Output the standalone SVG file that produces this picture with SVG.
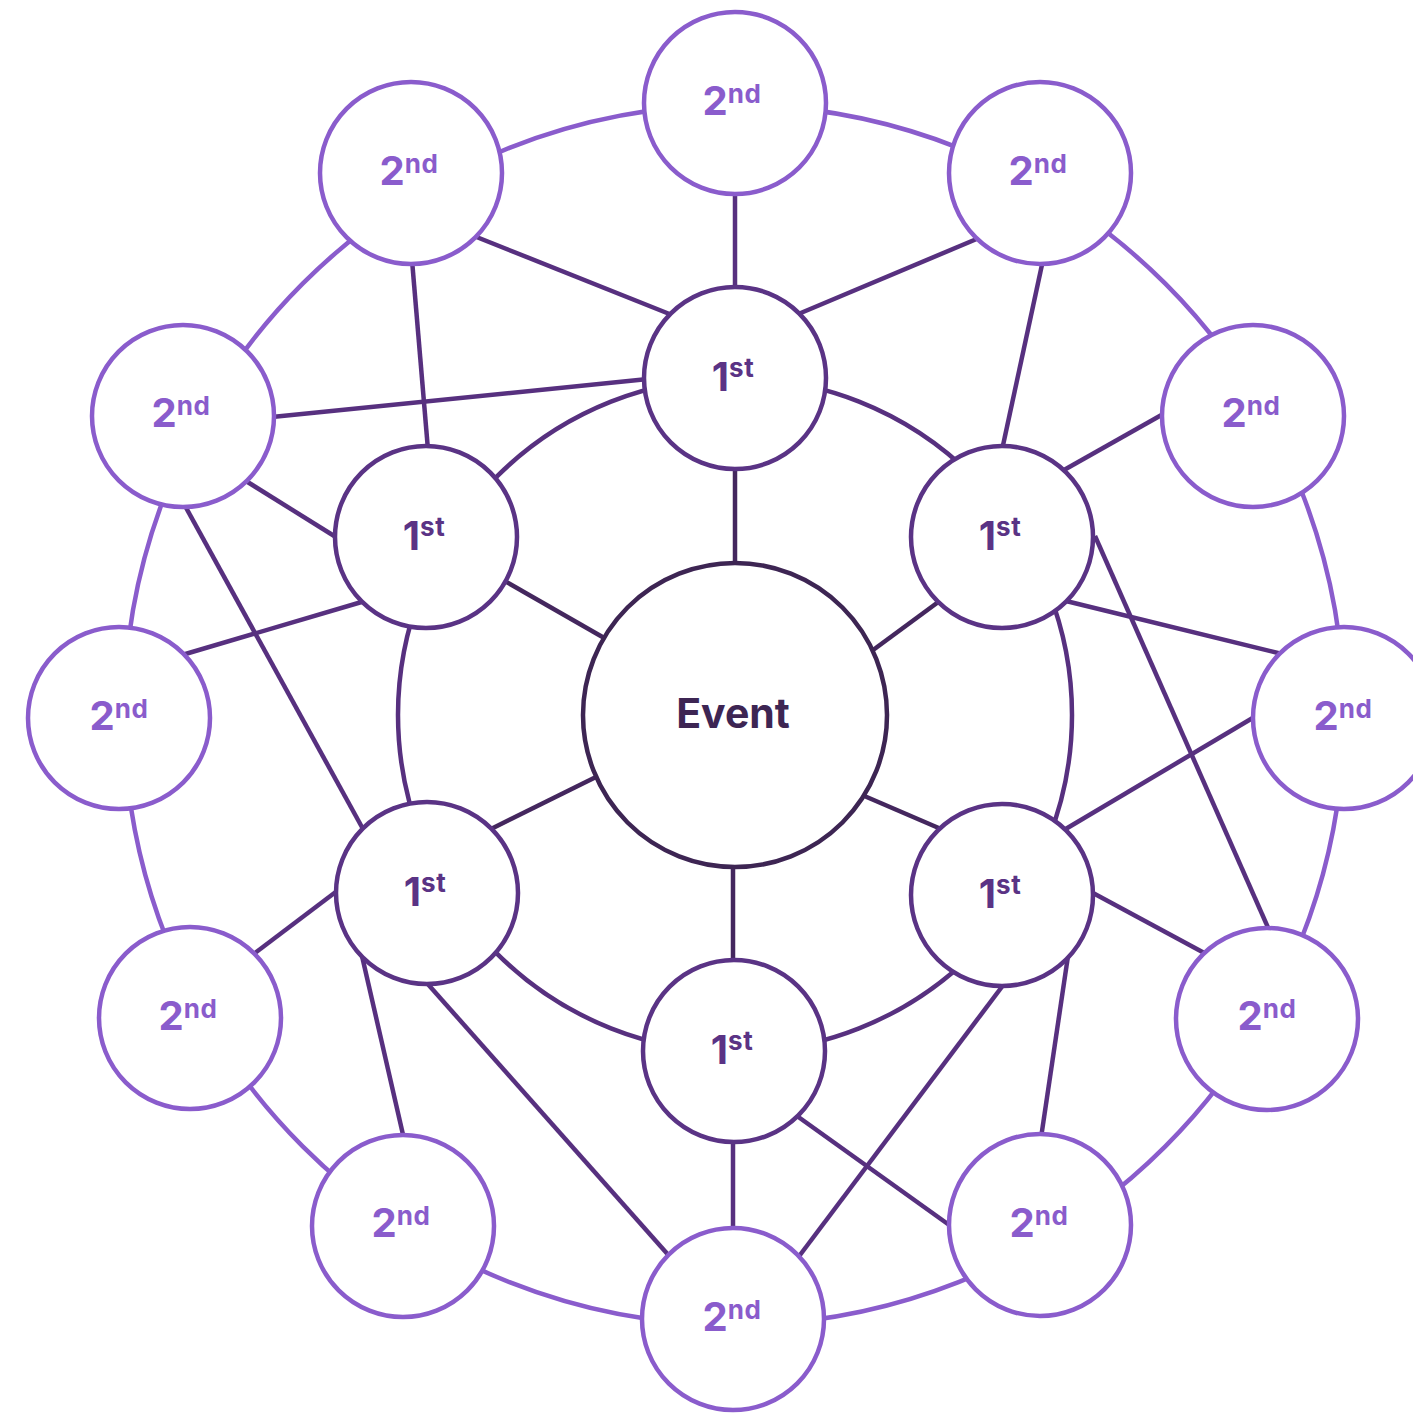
<svg xmlns="http://www.w3.org/2000/svg" width="1413" height="1414" viewBox="0 0 1413 1414">
<style>
.bg{fill:#ffffff}
.ring2{fill:none;stroke:#8a5ccc;stroke-width:4.5}
.ring1{fill:none;stroke:#57307f;stroke-width:4.5}
.ln{stroke:#57307f;stroke-width:4.5;fill:none}
.sp{stroke:#44275e;stroke-width:4.5;fill:none}
.n2 circle{fill:#ffffff;stroke:#8a5ccc;stroke-width:4.5}
.n1 circle{fill:#ffffff;stroke:#5a3385;stroke-width:4.5}
.ev circle{fill:#ffffff;stroke:#3d2553;stroke-width:4.5}
.t2{font-family:Inter,"Liberation Sans",sans-serif;font-weight:700;font-size:40px;fill:#8a5ccc;text-anchor:middle}
.t1{font-family:Inter,"Liberation Sans",sans-serif;font-weight:700;font-size:40px;fill:#5a3385;text-anchor:middle}
.tev{font-family:Inter,"Liberation Sans",sans-serif;font-weight:700;font-size:41px;fill:#3d2553;text-anchor:middle}
.sup{font-size:26px;letter-spacing:0.5px}
</style>
<rect class="bg" x="0" y="0" width="1413" height="1414"/>
<g id="connectors">
<circle class="ring2" cx="734" cy="715" r="610"/>
<circle class="ring1" cx="735" cy="715" r="337"/>
<line class="ln" x1="735" y1="190" x2="735" y2="292"/>
<line class="ln" x1="474" y1="236" x2="672" y2="315"/>
<line class="ln" x1="979" y1="238" x2="796" y2="315"/>
<line class="ln" x1="272" y1="417" x2="648" y2="379"/>
<line class="ln" x1="412" y1="260" x2="428" y2="450"/>
<line class="ln" x1="1043" y1="260" x2="1002" y2="450"/>
<line class="ln" x1="246" y1="481" x2="339" y2="539"/>
<line class="ln" x1="1165" y1="413" x2="1064" y2="470"/>
<line class="ln" x1="184" y1="504" x2="363" y2="829"/>
<line class="ln" x1="182" y1="655" x2="365" y2="601"/>
<line class="ln" x1="1066" y1="601" x2="1282" y2="654"/>
<line class="ln" x1="1095" y1="536" x2="1270" y2="932"/>
<line class="ln" x1="1256" y1="716" x2="1064" y2="830"/>
<line class="ln" x1="1093" y1="893" x2="1208" y2="955"/>
<line class="ln" x1="1068" y1="956" x2="1041" y2="1138"/>
<line class="ln" x1="1004" y1="984" x2="797" y2="1259"/>
<line class="ln" x1="797" y1="1116" x2="952" y2="1227"/>
<line class="ln" x1="733" y1="1138" x2="733" y2="1232"/>
<line class="ln" x1="426" y1="982" x2="671" y2="1258"/>
<line class="ln" x1="362" y1="956" x2="404" y2="1139"/>
<line class="ln" x1="251" y1="956" x2="337" y2="891"/>
<line class="sp" x1="735" y1="465" x2="735" y2="567"/>
<line class="sp" x1="503" y1="580" x2="606" y2="639"/>
<line class="sp" x1="941" y1="600" x2="869" y2="653"/>
<line class="sp" x1="489" y1="830" x2="598" y2="776"/>
<line class="sp" x1="862" y1="795" x2="941" y2="829"/>
<line class="sp" x1="733" y1="863" x2="733" y2="964"/>
</g>
<g id="event" class="ev">
<circle cx="735" cy="715" r="152"/>
<text class="tev" x="733" y="728">Event</text>
</g>
<g id="first-top" class="n1"><circle cx="735" cy="378" r="91"/><text class="t1" x="733" y="391">1<tspan class="sup" dy="-14">st</tspan></text></g>
<g id="first-ul" class="n1"><circle cx="426" cy="537" r="91"/><text class="t1" x="424" y="550">1<tspan class="sup" dy="-14">st</tspan></text></g>
<g id="first-ur" class="n1"><circle cx="1002" cy="537" r="91"/><text class="t1" x="1000" y="550">1<tspan class="sup" dy="-14">st</tspan></text></g>
<g id="first-ll" class="n1"><circle cx="427" cy="893" r="91"/><text class="t1" x="425" y="906">1<tspan class="sup" dy="-14">st</tspan></text></g>
<g id="first-lr" class="n1"><circle cx="1002" cy="895" r="91"/><text class="t1" x="1000" y="908">1<tspan class="sup" dy="-14">st</tspan></text></g>
<g id="first-bottom" class="n1"><circle cx="734" cy="1051" r="91"/><text class="t1" x="732" y="1064">1<tspan class="sup" dy="-14">st</tspan></text></g>
<g id="second-1" class="n2"><circle cx="735" cy="103" r="91"/><text class="t2" x="732" y="115">2<tspan class="sup" dy="-12">nd</tspan></text></g>
<g id="second-2" class="n2"><circle cx="411" cy="173" r="91"/><text class="t2" x="409" y="185">2<tspan class="sup" dy="-12">nd</tspan></text></g>
<g id="second-3" class="n2"><circle cx="1040" cy="173" r="91"/><text class="t2" x="1038" y="185">2<tspan class="sup" dy="-12">nd</tspan></text></g>
<g id="second-4" class="n2"><circle cx="183" cy="416" r="91"/><text class="t2" x="181" y="427">2<tspan class="sup" dy="-12">nd</tspan></text></g>
<g id="second-5" class="n2"><circle cx="1253" cy="416" r="91"/><text class="t2" x="1251" y="427">2<tspan class="sup" dy="-12">nd</tspan></text></g>
<g id="second-6" class="n2"><circle cx="119" cy="718" r="91"/><text class="t2" x="119" y="730">2<tspan class="sup" dy="-12">nd</tspan></text></g>
<g id="second-7" class="n2"><circle cx="1344" cy="718" r="91"/><text class="t2" x="1343" y="730">2<tspan class="sup" dy="-12">nd</tspan></text></g>
<g id="second-8" class="n2"><circle cx="190" cy="1018" r="91"/><text class="t2" x="188" y="1030">2<tspan class="sup" dy="-12">nd</tspan></text></g>
<g id="second-9" class="n2"><circle cx="1267" cy="1019" r="91"/><text class="t2" x="1267" y="1030">2<tspan class="sup" dy="-12">nd</tspan></text></g>
<g id="second-10" class="n2"><circle cx="403" cy="1226" r="91"/><text class="t2" x="401" y="1237">2<tspan class="sup" dy="-12">nd</tspan></text></g>
<g id="second-11" class="n2"><circle cx="1040" cy="1225" r="91"/><text class="t2" x="1039" y="1237">2<tspan class="sup" dy="-12">nd</tspan></text></g>
<g id="second-12" class="n2"><circle cx="733" cy="1319" r="91"/><text class="t2" x="732" y="1331">2<tspan class="sup" dy="-12">nd</tspan></text></g>
</svg>
